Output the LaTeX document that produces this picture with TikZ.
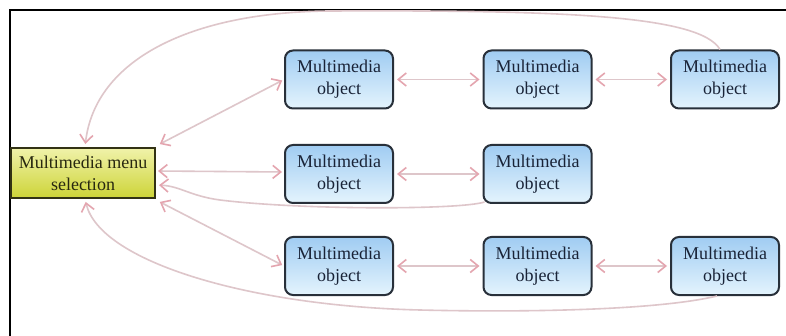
\documentclass[tikz,border=0pt]{standalone}
\usepackage{fontspec}
\setmainfont{Liberation Serif}
\usetikzlibrary{arrows.meta}
\definecolor{boxtop}{RGB}{160,204,242}
\definecolor{boxbot}{RGB}{228,244,253}
\definecolor{boxline}{RGB}{40,48,58}
\definecolor{menutop}{RGB}{240,242,170}
\definecolor{menubot}{RGB}{205,212,55}
\definecolor{menuline}{RGB}{50,50,20}
\definecolor{connline}{RGB}{222,198,202}
\definecolor{connhead}{RGB}{228,165,175}
\definecolor{txt}{RGB}{25,35,55}
\tikzset{
  mobj/.style={draw=boxline, line width=2pt, rounded corners=8pt,
    top color=boxtop, bottom color=boxbot, minimum width=108pt, minimum height=58pt,
    inner sep=0pt, align=center, text=txt,
    font=\fontsize{18}{22}\selectfont},
  mmenu/.style={draw=menuline, line width=2pt,
    top color=menutop, bottom color=menubot, minimum width=144pt, minimum height=50pt,
    inner sep=0pt, align=center, text=menuline!80!black,
    font=\fontsize{18}{22}\selectfont},
  conn/.style={draw=connline, line width=1.6pt,
    arrows={-Straight Barb[length=8pt,width=13pt,line width=1.6pt,color=connhead]}},
  bconn/.style={draw=connline, line width=1.6pt,
    arrows={Straight Barb[length=8pt,width=13pt,line width=1.6pt,color=connhead]-Straight Barb[length=8pt,width=13pt,line width=1.6pt,color=connhead]}}
}
\begin{document}
\begin{tikzpicture}[x=1pt,y=-1pt]
\useasboundingbox (0,0) rectangle (786,336);
\fill[white] (0,0) rectangle (786,336);
\draw[line width=2pt,black] (10,336) -- (10,10) -- (786,10);

\node[mmenu] (m) at (83,173) {Multimedia menu\\selection};

\node[mobj] (a1) at (339,79.5) {Multimedia\\object};
\node[mobj] (b1) at (537.5,79.5) {Multimedia\\object};
\node[mobj] (c1) at (725,79.5) {Multimedia\\object};

\node[mobj] (a2) at (339,174) {Multimedia\\object};
\node[mobj] (b2) at (537.5,174) {Multimedia\\object};

\node[mobj] (a3) at (339,266) {Multimedia\\object};
\node[mobj] (b3) at (537.5,266) {Multimedia\\object};
\node[mobj] (c3) at (725,266) {Multimedia\\object};

% menu <-> first column
\draw[bconn, shorten <=2pt, shorten >=2pt] ([xshift=2pt,yshift=2pt]m.north east) -- (a1.west);
\draw[bconn, shorten <=2pt, shorten >=2pt] ([yshift=2pt]m.east) -- ([yshift=2pt]a2.west);
\draw[bconn, shorten <=2pt, shorten >=2pt] ([xshift=2pt,yshift=-2pt]m.south east) -- (a3.west);

% row links
\draw[bconn, shorten <=3pt, shorten >=3pt] (a1.east) -- (b1.west);
\draw[bconn, shorten <=3pt, shorten >=3pt] (b1.east) -- (c1.west);
\draw[bconn, shorten <=3pt, shorten >=3pt] (a2.east) -- (b2.west);
\draw[bconn, shorten <=3pt, shorten >=3pt] (a3.east) -- (b3.west);
\draw[bconn, shorten <=3pt, shorten >=3pt] (b3.east) -- (c3.west);

% return links
\draw[conn, shorten >=3pt] ([xshift=2pt,yshift=2pt]b2.south west)
  .. controls (460,210) and (300,210) .. (220,200)
  .. controls (190,196) and (180,186) .. ([yshift=-12pt]m.east);
\draw[conn, shorten >=3pt] ([xshift=-5pt]c1.north)
  .. controls (700,15) and (560,10) .. (330,11)
  .. controls (190,12) and (95,60) .. ([xshift=2pt]m.north);
\draw[conn, shorten >=3pt] ([xshift=-8pt]c3.south)
  .. controls (650,312) and (500,312) .. (420,310)
  .. controls (250,306) and (100,262) .. ([xshift=2pt]m.south);
\end{tikzpicture}
\end{document}
